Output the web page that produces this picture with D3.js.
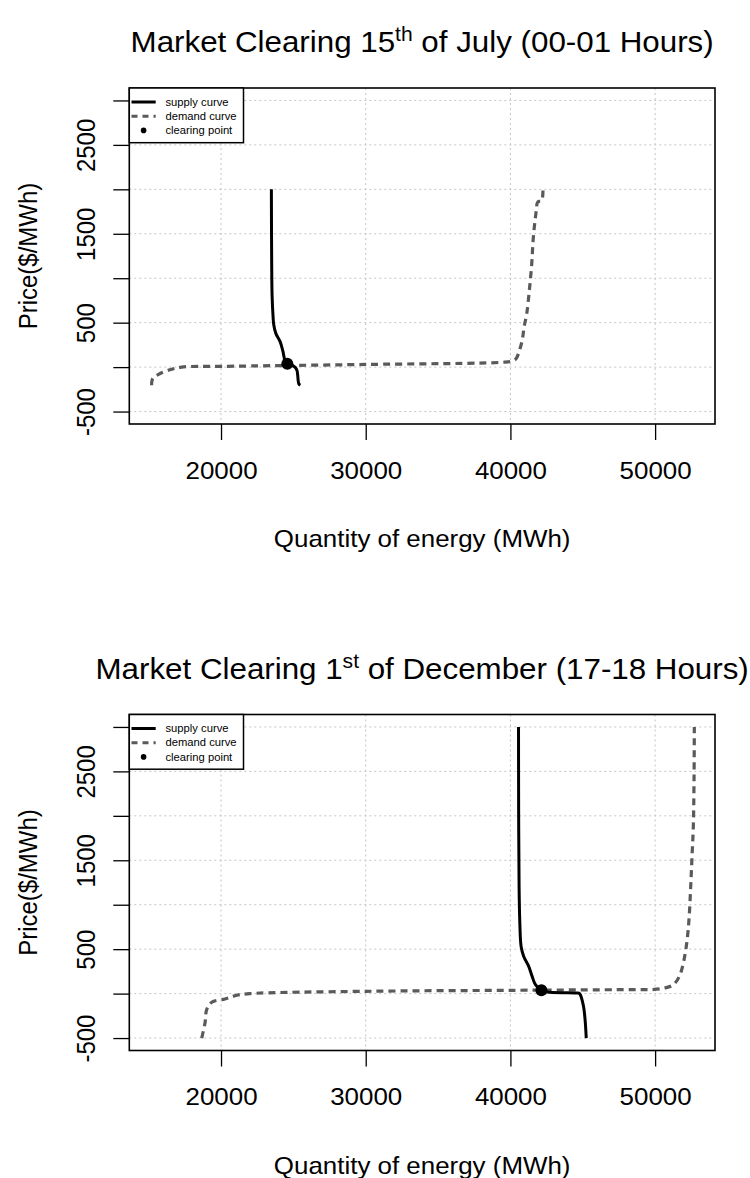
<!DOCTYPE html>
<html>
<head>
<meta charset="utf-8">
<script src="https://cdn.jsdelivr.net/npm/d3@7"></script>
<style>
  html, body { margin: 0; padding: 0; background: #fff; }
  svg { display: block; font-family: "Liberation Sans", Arial, sans-serif; }
</style>
</head>
<body>
<svg id="chart" width="750" height="1178"></svg>
<script>
// ---------- data ----------
const xTicks = [20000, 30000, 40000, 50000];
const yTicks = [-500, 0, 500, 1000, 1500, 2000, 2500, 3000];
const yLabelTicks = [-500, 500, 1500, 2500];
const xLim = [15160, 52640];
const yLim = [-500, 3000];

const legendLabels = ["supply curve", "demand curve", "clearing point"];

// Chart 1: 15th of July (00-01 Hours)
const supply1X = [23480, 23500, 23530, 23600, 23640, 23800, 24077, 24264, 24423, 24580, 24900, 25114, 25250, 25376, 25480];
const supply1Y = [2000, 1200, 800, 560, 480, 374, 290, 187, 75, 38, 20, 0, -37, -187, -205];
const demand1X = [15200, 15280, 15680, 16475, 17270, 20000, 30000, 39600, 40150, 40387, 40663, 40850, 40940, 41126, 41306, 41472, 41583, 41770, 41900, 42150, 42250];
const demand1Y = [-205, -130, -82, -30, 0, 8, 30, 56, 70, 94, 206, 336, 448, 599, 860, 1159, 1457, 1738, 1860, 1870, 2000];
const clearing1 = [24580, 38];

// Chart 2: 1st of December (17-18 Hours)
const supply2X = [40560, 40570, 40600, 40650, 40740, 40920, 41265, 41500, 41730, 42143, 42740, 44586, 44780, 45050, 45240];
const supply2Y = [3000, 2000, 1200, 800, 530, 418, 306, 194, 101, 37, 15, 8, 0, -142, -500];
const demand2X = [18666, 18894, 19010, 19357, 20276, 21085, 22000, 30000, 40000, 48980, 49770, 50690, 51260, 51675, 51950, 52185, 52340, 52460, 52550, 52640, 52690, 52710];
const demand2Y = [-500, -329, -180, -97, -60, -19, 0, 26, 37, 45, 45, 64, 101, 194, 344, 568, 830, 1203, 1540, 1875, 2400, 3000];
const clearing2 = [42143, 37];

const charts = [
  { pre: "Market Clearing 15", sup: "th", post: " of July (00-01 Hours)",
    sx: supply1X, sy: supply1Y, dx: demand1X, dy: demand1Y, cp: clearing1, offset: 0 },
  { pre: "Market Clearing 1", sup: "st", post: " of December (17-18 Hours)",
    sx: supply2X, sy: supply2Y, dx: demand2X, dy: demand2Y, cp: clearing2, offset: 626.5 }
];

// ---------- layout ----------
const L = 129.3, R = 715, T = 88, B = 424;
const SX = 1.08; // horizontal stretch of text in reference
const FONT = 24;
const demandColor = "#5a5a5a";

const svg = d3.select("#chart");

function pad(lim) { const r = lim[1] - lim[0]; return [lim[0] - 0.04 * r, lim[1] + 0.04 * r]; }

charts.forEach(c => {
  const g = svg.append("g").attr("transform", `translate(0,${c.offset})`);
  const x = d3.scaleLinear().domain(pad(xLim)).range([L, R]);
  const y = d3.scaleLinear().domain(pad(yLim)).range([B, T]);

  // grid
  g.append("g").selectAll("line.v").data(xTicks).join("line")
    .attr("x1", d => x(d)).attr("x2", d => x(d)).attr("y1", T).attr("y2", B)
    .attr("stroke", "#c4c4c4").attr("stroke-width", 1).attr("stroke-dasharray", "2,3");
  g.append("g").selectAll("line.h").data(yTicks).join("line")
    .attr("x1", L).attr("x2", R).attr("y1", d => y(d)).attr("y2", d => y(d))
    .attr("stroke", "#c4c4c4").attr("stroke-width", 1).attr("stroke-dasharray", "2,3");

  // axes
  const xa = g.append("g").attr("transform", `translate(0,${B})`)
    .call(d3.axisBottom(x).tickValues(xTicks).tickSize(16).tickFormat(d3.format("d")));
  xa.select(".domain").remove();
  xa.selectAll("line").attr("stroke", "#000").attr("stroke-width", 1.3);
  xa.selectAll("text").attr("y", 55).attr("dy", 0)
    .attr("transform", `scale(${SX},1)`)
    .style("font-size", FONT + "px").style("font-family", '"Liberation Sans", Arial, sans-serif').attr("fill", "#000");

  const ya = g.append("g").attr("transform", `translate(${L},0)`)
    .call(d3.axisLeft(y).tickValues(yTicks).tickSize(16)
      .tickFormat(d => yLabelTicks.includes(d) ? String(d) : ""));
  ya.select(".domain").remove();
  ya.selectAll("line").attr("stroke", "#000").attr("stroke-width", 1.3);
  ya.selectAll("text").attr("x", 0).attr("y", 0).attr("dy", 0)
    .attr("text-anchor", "middle")
    .attr("transform", `translate(-34.3,0) rotate(-90) scale(1,${SX})`)
    .style("font-size", FONT + "px").style("font-family", '"Liberation Sans", Arial, sans-serif').attr("fill", "#000");

  // curves
  const line = d3.line().x(d => x(d[0])).y(d => y(d[1])).curve(d3.curveCatmullRom.alpha(0.5));
  const demand = c.dx.map((v, i) => [v, c.dy[i]]);
  const supply = c.sx.map((v, i) => [v, c.sy[i]]);
  g.append("path").attr("d", line(demand)).attr("fill", "none")
    .attr("stroke", demandColor).attr("stroke-width", 3.2).attr("stroke-dasharray", "7,5");
  g.append("path").attr("d", line(supply)).attr("fill", "none")
    .attr("stroke", "#000").attr("stroke-width", 3).attr("stroke-linejoin", "round");
  g.append("circle").attr("cx", x(c.cp[0])).attr("cy", y(c.cp[1])).attr("r", 6).attr("fill", "#000");

  // box
  g.append("rect").attr("x", L).attr("y", T).attr("width", R - L).attr("height", B - T)
    .attr("fill", "none").attr("stroke", "#000").attr("stroke-width", 1.6);

  // legend
  const lg = g.append("g");
  lg.append("rect").attr("x", L).attr("y", T).attr("width", 114.2).attr("height", 54.7)
    .attr("fill", "#fff").attr("stroke", "#000").attr("stroke-width", 1.5);
  const rows = [102, 116.2, 130.4];
  lg.append("line").attr("x1", 131.5).attr("x2", 155.7).attr("y1", T + rows[0] - 88).attr("y2", T + rows[0] - 88)
    .attr("stroke", "#000").attr("stroke-width", 3);
  lg.append("line").attr("x1", 131.5).attr("x2", 155.7).attr("y1", T + rows[1] - 88).attr("y2", T + rows[1] - 88)
    .attr("stroke", demandColor).attr("stroke-width", 3).attr("stroke-dasharray", "6,5");
  lg.append("circle").attr("cx", 143.6).attr("cy", T + rows[2] - 88).attr("r", 2.8).attr("fill", "#000");
  lg.selectAll("text.leg").data(legendLabels).join("text")
    .attr("transform", (d, i) => `translate(165.5,${T + rows[i] - 88 + 3.7}) scale(${SX},1)`)
    .style("font-size", "10.4px").attr("fill", "#000").text(d => d);

  // titles
  const tt = g.append("text").attr("transform", `translate(${(L + R) / 2},52) scale(${SX},1)`)
    .attr("text-anchor", "middle").style("font-size", "29px").attr("fill", "#000");
  tt.append("tspan").text(c.pre);
  tt.append("tspan").attr("dy", -11).style("font-size", "19.5px").text(c.sup);
  tt.append("tspan").attr("dy", 11).text(c.post);

  g.append("text").attr("transform", `translate(${(L + R) / 2},547) scale(${SX},1)`)
    .attr("text-anchor", "middle").style("font-size", FONT + "px").attr("fill", "#000")
    .text("Quantity of energy (MWh)");
  g.append("text").attr("transform", `translate(37,${(T + B) / 2}) rotate(-90) scale(1,${SX})`)
    .attr("text-anchor", "middle").style("font-size", FONT + "px").attr("fill", "#000")
    .text("Price($/MWh)");
});
</script>
</body>
</html>
